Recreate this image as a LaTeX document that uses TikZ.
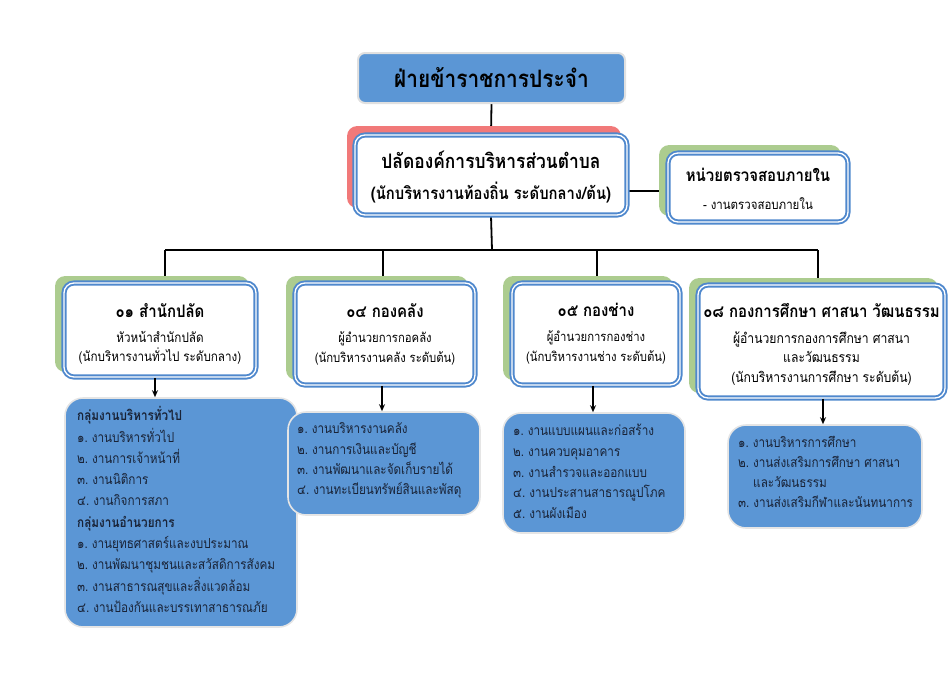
\documentclass[tikz,border=0pt]{standalone}
\usepackage{fontspec}
\newfontfamily\thaifont[Script=Thai]{Loma}
\newfontfamily\thaiu[Script=Thai,FakeStretch=0.87]{Loma}
\newfontfamily\thaic[Script=Thai,FakeStretch=0.85]{Loma}
\usetikzlibrary{backgrounds,calc,arrows.meta}
\definecolor{bx}{RGB}{79,136,205}
\definecolor{fillb}{RGB}{91,150,213}
\definecolor{greenS}{RGB}{172,204,143}
\definecolor{redS}{RGB}{241,121,121}
\definecolor{txtd}{RGB}{25,35,55}
\tikzset{
  wbox/.style={rectangle, rounded corners=10pt, draw=bx, line width=1.9pt,
    double=white, double distance=1.3pt, fill=white, inner sep=0pt},
  topbox/.style={rectangle, rounded corners=7pt, draw=black!12, line width=2pt,
    fill=fillb, inner sep=0pt, align=center},
  lowbox/.style={rectangle, rounded corners=18pt, draw=black!10, line width=1.6pt,
    fill=fillb, inner sep=0pt},
  wtxt/.style={inner sep=0pt, align=center},
  ltxt/.style={inner sep=0pt, align=left, anchor=west, text=txtd},
  conn/.style={draw=black, line width=1.8pt},
  arr/.style={draw=black, line width=1.3pt, -{Stealth[length=7pt,width=6pt]}},
  shG/.style={fill=greenS, rounded corners=10pt},
  shR/.style={fill=redS, rounded corners=10pt},
}
\begin{document}
\begin{tikzpicture}[x=1pt,y=-1pt,font=\thaiu]
\useasboundingbox (0,0) rectangle (950,672);

% top box
\node[topbox, minimum width=267pt, minimum height=50pt, font=\thaiu\bfseries\fontsize{24}{28}\selectfont] (top) at (491.5,78) {ฝ่ายข้าราชการประจำ};

% palad
\node[wbox, minimum width=272pt, minimum height=80pt] (palad) at (491,175) {};
\node[wtxt, font=\thaiu\bfseries\fontsize{17}{31}\selectfont] (paladt) at (491,177)
  {{\fontsize{20}{22}\selectfont ปลัดองค์การบริหารส่วนตำบล}\\
   (นักบริหารงานท้องถิ่น ระดับกลาง/ต้น)};

% audit unit
\node[wbox, minimum width=180pt, minimum height=69pt] (unit) at (758,187.5) {};
\node[wtxt, font=\thaiu\fontsize{13.2}{28}\selectfont] (unitt) at (758,189)
  {{\bfseries\fontsize{17.2}{20}\selectfont หน่วยตรวจสอบภายใน}\\
   - งานตรวจสอบภายใน};

% division boxes
\node[wbox, minimum width=192pt, minimum height=94pt] (b1) at (160,330) {};
\node[wtxt, font=\thaiu\fontsize{13.4}{19}\selectfont] (b1t) at (160,334)
  {{\bfseries\fontsize{17.2}{20}\selectfont ๐๑ สำนักปลัด}\\[6pt]
   หัวหน้าสำนักปลัด\\
   (นักบริหารงานทั่วไป ระดับกลาง)};
\node[wbox, minimum width=180pt, minimum height=102pt] (b2) at (385,334) {};
\node[wtxt, font=\thaiu\fontsize{13}{20}\selectfont] (b2t) at (385,334)
  {{\bfseries\fontsize{17.2}{20}\selectfont ๐๔ กองคลัง}\\[5pt]
   ผู้อำนวยการกอคลัง\\
   (นักบริหารงานคลัง ระดับต้น)};
\node[wbox, minimum width=168pt, minimum height=102pt] (b3) at (596,334) {};
\node[wtxt, font=\thaiu\fontsize{13}{20}\selectfont] (b3t) at (596,334)
  {{\bfseries\fontsize{17.2}{20}\selectfont ๐๕ กองช่าง}\\[5pt]
   ผู้อำนวยการกองช่าง\\
   (นักบริหารงานช่าง ระดับต้น)};
\node[wbox, minimum width=247pt, minimum height=113pt] (b4) at (821.5,341.5) {};
\node[wtxt, font=\thaiu\fontsize{14}{19.7}\selectfont] (b4t) at (821.5,344.5)
  {{\bfseries\fontsize{17.2}{20}\selectfont ๐๘ กองการศึกษา ศาสนา วัฒนธรรม}\\[6pt]
   ผู้อำนวยการกองการศึกษา ศาสนา\\
   และวัฒนธรรม\\
   (นักบริหารงานการศึกษา ระดับต้น)};

% lower boxes
\node[lowbox, minimum width=232pt, minimum height=229pt] (l1) at (181,512.5) {};
\node[ltxt, font=\thaic\fontsize{13.8}{21.3}\selectfont] (l1t) at (77,509.5)
  {{\bfseries กลุ่มงานบริหารทั่วไป}\\
   ๑.~งานบริหารทั่วไป\\
   ๒.~งานการเจ้าหน้าที่\\
   ๓.~งานนิติการ\\
   ๔.~งานกิจการสภา\\
   {\bfseries กลุ่มงานอำนวยการ}\\
   ๑.~งานยุทธศาสตร์และงบประมาณ\\
   ๒.~งานพัฒนาชุมชนและสวัสดิการสังคม\\
   ๓.~งานสาธารณสุขและสิ่งแวดล้อม\\
   ๔.~งานป้องกันและบรรเทาสาธารณภัย};
\node[lowbox, minimum width=192pt, minimum height=103pt] (l2) at (384,463.5) {};
\node[ltxt, font=\thaic\fontsize{13.8}{20.3}\selectfont] (l2t) at (297,460.5)
  {๑.~งานบริหารงานคลัง\\
   ๒.~งานการเงินและบัญชี\\
   ๓.~งานพัฒนาและจัดเก็บรายได้\\
   ๔.~งานทะเบียนทรัพย์สินและพัสดุ};
\node[lowbox, minimum width=182pt, minimum height=120pt] (l3) at (594,473) {};
\node[ltxt, font=\thaic\fontsize{13.8}{20.7}\selectfont] (l3t) at (513,471.5)
  {๑.~งานแบบแผนและก่อสร้าง\\
   ๒.~งานควบคุมอาคาร\\
   ๓.~งานสำรวจและออกแบบ\\
   ๔.~งานประสานสาธารณูปโภค\\
   ๕.~งานผังเมือง};
\node[lowbox, minimum width=194pt, minimum height=103pt] (l4) at (825,476.5) {};
\node[ltxt, font=\thaic\fontsize{13.8}{20}\selectfont] (l4t) at (738,472)
  {๑.~งานบริหารการศึกษา\\
   ๒.~งานส่งเสริมการศึกษา ศาสนา\\
   \hspace*{15pt}และวัฒนธรรม\\
   ๓.~งานส่งเสริมกีฬาและนันทนาการ};

% connector points
\coordinate (uy) at (0,191);
\coordinate (bus) at (492,250);
\coordinate (j1) at (165,250);
\coordinate (j2) at (383,250);
\coordinate (j3) at (597,250);
\coordinate (j4) at (818,250);
\coordinate (a1) at (155,0);
\coordinate (a2) at (382,0);
\coordinate (a3) at (593,0);
\coordinate (a4) at (823,0);

\begin{scope}[on background layer]
  \draw[conn] (top.south) -- (palad.north);
  \draw[conn] (palad.east |- uy) -- (unit.west |- uy);
  \draw[conn] (palad.south) -- (bus);
  \draw[conn] (j1) -- (j4);
  \draw[conn] (j1) -- (j1 |- b1.north);
  \draw[conn] (j2) -- (j2 |- b2.north);
  \draw[conn] (j3) -- (j3 |- b3.north);
  \draw[conn] (j4) -- (j4 |- b4.north);
  \fill[shR] ($(palad.north west)+(-7pt,8pt)$) rectangle ($(palad.south east)+(-7pt,8pt)$);
  \fill[shG] ($(unit.north west)+(-8pt,7pt)$) rectangle ($(unit.south east)+(-8pt,7pt)$);
  \fill[shG] ($(b1.north west)+(-8pt,6pt)$) rectangle ($(b1.south east)+(-8pt,6pt)$);
  \fill[shG] ($(b2.north west)+(-8pt,6pt)$) rectangle ($(b2.south east)+(-8pt,6pt)$);
  \fill[shG] ($(b3.north west)+(-8pt,6pt)$) rectangle ($(b3.south east)+(-8pt,6pt)$);
  \fill[shG] ($(b4.north west)+(-8pt,6pt)$) rectangle ($(b4.south east)+(-8pt,6pt)$);
\end{scope}

\draw[arr] (a1 |- b1.south) -- (a1 |- l1.north);
\draw[arr] (a2 |- b2.south) -- (a2 |- l2.north);
\draw[arr] (a3 |- b3.south) -- (a3 |- l3.north);
\draw[arr] (a4 |- b4.south) -- (a4 |- l4.north);
\end{tikzpicture}
\end{document}
